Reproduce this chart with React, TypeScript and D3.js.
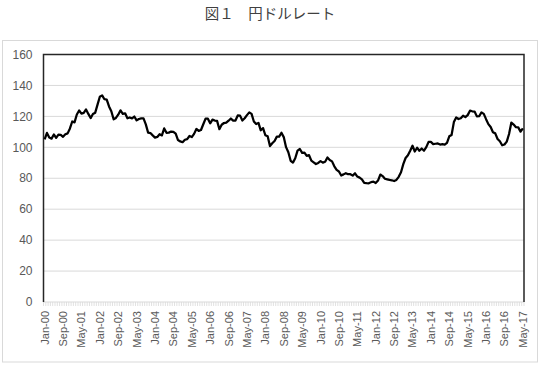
import React from "react";
import * as d3 from "d3";

const title = "図１　円ドルレート";
const monthNames = ["Jan", "Feb", "Mar", "Apr", "May", "Jun", "Jul", "Aug", "Sep", "Oct", "Nov", "Dec"];
const startYear = 2000;

const rates2000 = [105.2, 109.3, 106.3, 105.6, 108.3, 106.1, 108.2, 108.1, 106.8, 108.4, 109.0, 112.2];
const rates2001 = [116.7, 116.1, 121.2, 123.8, 121.8, 122.3, 124.5, 121.6, 118.9, 121.5, 122.4, 127.6];
const rates2002 = [132.7, 133.6, 131.1, 130.8, 126.4, 123.3, 118.1, 119.0, 121.1, 123.9, 121.6, 122.0];
const rates2003 = [118.8, 119.3, 118.7, 119.9, 117.4, 118.3, 118.7, 118.7, 114.8, 109.5, 109.2, 107.7];
const rates2004 = [106.3, 106.7, 108.5, 107.7, 112.2, 109.4, 109.5, 110.2, 110.0, 108.8, 104.7, 103.8];
const rates2005 = [103.3, 104.9, 105.3, 107.3, 106.6, 108.7, 111.9, 110.6, 111.2, 114.9, 118.5, 118.5];
const rates2006 = [115.5, 117.9, 117.3, 117.1, 111.7, 114.6, 115.7, 115.9, 117.2, 118.6, 117.3, 117.3];
const rates2007 = [120.6, 120.5, 117.3, 118.8, 120.8, 122.6, 121.6, 116.7, 115.0, 115.8, 111.0, 112.4];
const rates2008 = [107.8, 107.1, 100.8, 102.6, 104.1, 106.9, 106.9, 109.4, 106.6, 100.1, 96.8, 91.3];
const rates2009 = [90.1, 92.9, 97.9, 98.9, 96.4, 96.6, 94.5, 94.9, 91.4, 90.3, 89.2, 89.9];
const rates2010 = [91.1, 90.1, 90.7, 93.4, 91.8, 90.9, 87.7, 85.4, 84.4, 81.8, 82.5, 83.3];
const rates2011 = [82.6, 82.6, 81.7, 83.2, 81.1, 80.4, 79.3, 77.0, 76.8, 76.7, 77.5, 77.8];
const rates2012 = [76.9, 78.5, 82.4, 81.4, 79.7, 79.3, 78.9, 78.7, 78.2, 78.9, 80.9, 83.9];
const rates2013 = [89.1, 93.1, 94.9, 97.8, 101.0, 97.3, 99.7, 97.8, 99.2, 97.8, 100.1, 103.5];
const rates2014 = [103.5, 102.1, 102.3, 102.5, 101.8, 102.0, 101.7, 102.9, 107.1, 108.0, 116.3, 119.3];
const rates2015 = [118.3, 118.8, 120.4, 119.5, 120.8, 123.7, 123.3, 123.1, 120.0, 120.1, 122.6, 121.6];
const rates2016 = [118.2, 115.0, 113.1, 109.7, 109.0, 105.4, 103.9, 101.3, 101.8, 103.7, 108.6, 116.0];
const rates2017 = [114.7, 113.0, 112.9, 110.1, 112.2];

const rates = [
  ...rates2000, ...rates2001, ...rates2002, ...rates2003, ...rates2004, ...rates2005,
  ...rates2006, ...rates2007, ...rates2008, ...rates2009, ...rates2010, ...rates2011,
  ...rates2012, ...rates2013, ...rates2014, ...rates2015, ...rates2016, ...rates2017,
];

const categories = rates.map((_, i) => {
  const y = startYear + Math.floor(i / 12);
  return `${monthNames[i % 12]}-${String(y % 100).padStart(2, "0")}`;
});

const yTicks = [0, 20, 40, 60, 80, 100, 120, 140, 160];
const labelEvery = 8;

const W = 541;
const H = 372;
const plot = { left: 43.5, top: 54.5, right: 524, bottom: 302 };

export default function App() {
  const x = d3
    .scaleBand<string>()
    .domain(categories)
    .range([plot.left, plot.right])
    .paddingInner(0)
    .paddingOuter(0);
  const y = d3.scaleLinear().domain([0, 160]).range([plot.bottom, plot.top]);
  const cx = (c: string) => (x(c) as number) + x.bandwidth() / 2;

  const line = d3
    .line<number>()
    .x((_, i) => cx(categories[i]))
    .y((d) => y(d));

  const tickXs = categories.map((c) => x(c) as number).concat([plot.right]);
  const labelCats = categories.filter((_, i) => i % labelEvery === 0);

  return (
    <svg
      width={W}
      height={H}
      style={{ position: "absolute", left: 0, top: 0, background: "#fff" }}
      fontFamily="'Liberation Sans', Arial, sans-serif"
    >
      <text
        x={270}
        y={19}
        textAnchor="middle"
        fontFamily="'Noto Sans CJK JP', sans-serif"
        fontSize={14.5}
        fill="#404040"
      >
        {title}
      </text>
      <rect x={2.5} y={40.5} width={535} height={321.5} fill="#fff" stroke="#d9d9d9" strokeWidth={1} />

      {yTicks.map((t) => (
        <g key={t}>
          {t > 0 && t < 160 && (
            <line x1={plot.left} x2={plot.right} y1={y(t)} y2={y(t)} stroke="#d9d9d9" strokeWidth={1} />
          )}
          <text x={32.5} y={y(t)} dy="0.35em" textAnchor="end" fontSize={12} fill="#595959">
            {t}
          </text>
        </g>
      ))}

      {tickXs.map((tx, i) => (
        <line key={i} x1={tx} x2={tx} y1={plot.bottom} y2={plot.bottom + 4} stroke="#d9d9d9" strokeWidth={0.8} />
      ))}
      <line x1={plot.left} x2={plot.right} y1={plot.bottom} y2={plot.bottom} stroke="#d9d9d9" strokeWidth={1} />

      {labelCats.map((c) => (
        <text
          key={c}
          transform={`translate(${cx(c) + 4},${plot.bottom + 9}) rotate(-90)`}
          textAnchor="end"
          fontSize={11}
          fill="#595959"
        >
          {c}
        </text>
      ))}

      <path
        d={`M${plot.left},${plot.bottom}V${plot.top}H${plot.right}V${plot.bottom}`}
        fill="none"
        stroke="#262626"
        strokeWidth={1.5}
      />

      <path d={line(rates) || ""} fill="none" stroke="#000" strokeWidth={2.25} strokeLinejoin="round" />
    </svg>
  );
}
